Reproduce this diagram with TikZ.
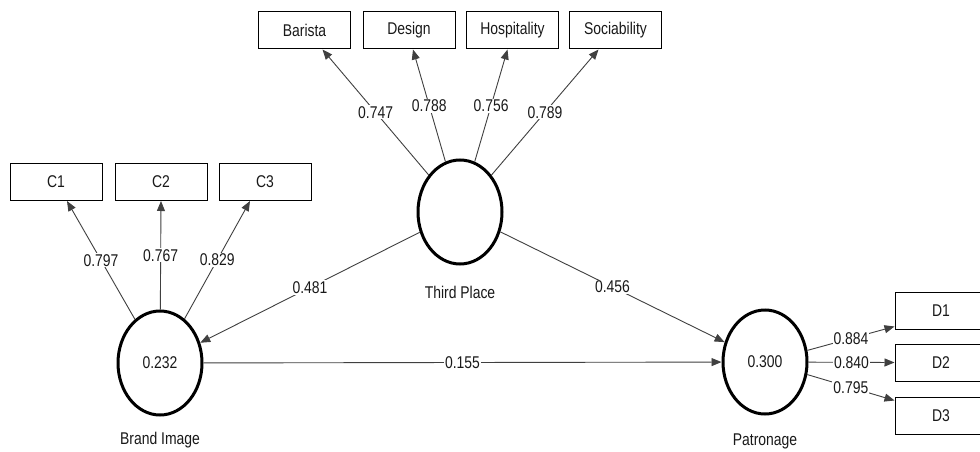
\documentclass[tikz,border=0pt]{standalone}
\usepackage{fontspec}
\setmainfont{Liberation Sans}[FakeStretch=0.82]
\usetikzlibrary{shapes.geometric,arrows.meta,calc}
\begin{document}
\begin{tikzpicture}[x=1pt,y=-1pt,
  every node/.style={font=\fontsize{17}{19}\selectfont, text=black!90},
  ind/.style={draw=black, line width=1pt, minimum width=92pt, minimum height=37pt, inner sep=0pt},
  lat/.style={ellipse, draw=black, line width=3pt, minimum width=84pt, minimum height=104pt, inner sep=0pt},
  conn/.style={draw=black!75, line width=0.9pt, -{Triangle[length=10pt,width=8pt]}},
  lab/.style={fill=white, inner sep=1pt},
  nm/.style={inner sep=0pt}]
\useasboundingbox (0,0) rectangle (980,452);
\fill[white] (0,0) rectangle (980,452);
% latent variables
\node[lat] (tp) at (460,212) {};
\node[lat] (bi) at (160,363) {0.232};
\node[lat] (pa) at (765,362) {0.300};
\node[nm] (tpn) at (460,292) {Third Place};
\node[nm] (bin) at (160,440) {Brand Image};
\node[nm] (pan) at (765,441) {Patronage};
% indicators
\node[ind] (ba) at (304.5,30.5) {Barista};
\node[ind] (de) at (409,30.5) {Design};
\node[ind] (ho) at (512.5,30.5) {Hospitality};
\node[ind] (so) at (615.5,30.5) {Sociability};
\node[ind] (c1) at (56,182) {C1};
\node[ind] (c2) at (161,182) {C2};
\node[ind] (c3) at (265,182) {C3};
\node[ind] (d1) at (941,310.5) {D1};
\node[ind] (d2) at (941,362.5) {D2};
\node[ind] (d3) at (941,415.5) {D3};
% Third Place indicators
\draw[conn] (tp) -- node[lab]{0.747} ($(ba.south)+(18,0)$);
\draw[conn] (tp) -- node[lab]{0.788} ($(de.south)+(4,0)$);
\draw[conn] (tp) -- node[lab]{0.756} ($(ho.south)+(-5,0)$);
\draw[conn] (tp) -- node[lab]{0.789} ($(so.south)+(-17,0)$);
% Brand Image indicators
\draw[conn] (bi) -- node[lab]{0.797} ($(c1.south)+(11,0)$);
\draw[conn] (bi) -- node[lab]{0.767} (c2.south);
\draw[conn] (bi) -- node[lab]{0.829} ($(c3.south)+(-15,0)$);
% Patronage indicators
\draw[conn] (pa) -- node[lab]{0.884} ($(d1.south west)+(0,-3)$);
\draw[conn] (pa) -- node[lab]{0.840} (d2.west);
\draw[conn] (pa) -- node[lab]{0.795} ($(d3.north west)+(0,4)$);
% structural paths
\draw[conn] (tp) -- node[lab]{0.481} (bi);
\draw[conn] (tp) -- node[lab]{0.456} (pa);
\draw[conn] (bi) -- node[lab]{0.155} (pa);
\end{tikzpicture}
\end{document}
